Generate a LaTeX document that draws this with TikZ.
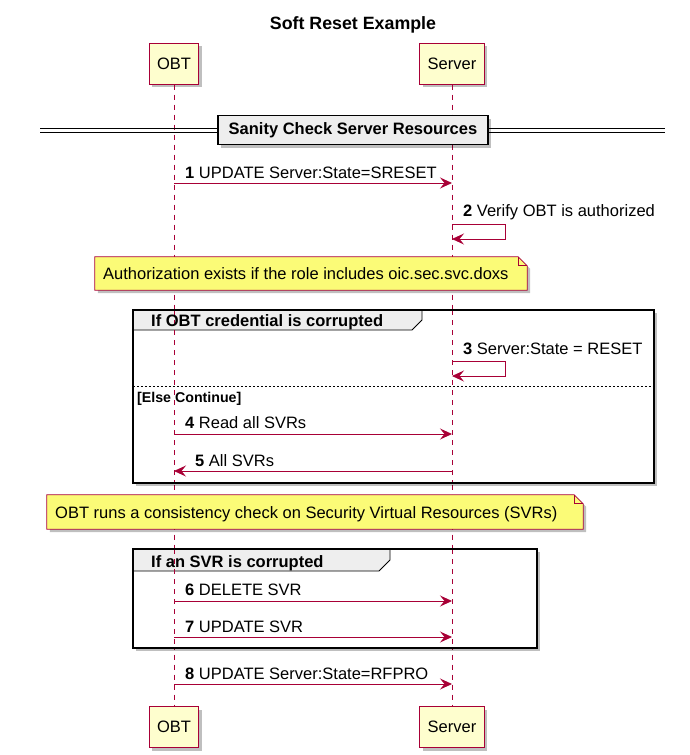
\documentclass[tikz,border=0pt]{standalone}
\usepackage{fontspec}
\setmainfont{Liberation Sans}
\usetikzlibrary{arrows.meta,shadows,calc}
\definecolor{pred}{HTML}{A80036}
\definecolor{pfill}{HTML}{FEFECE}
\definecolor{nfill}{HTML}{FBFB77}
\definecolor{gfill}{HTML}{EEEEEE}
\tikzset{
  x=1pt, y=-1pt,
  shad/.style={drop shadow={shadow xshift=3pt, shadow yshift=-3pt, fill=black, opacity=0.25}},
  part/.style={draw=pred, line width=1pt, fill=pfill, minimum height=41pt, inner xsep=8pt, font=\fontsize{16.5}{19}\selectfont, shad},
  life/.style={draw=pred, dashed, dash pattern=on 5pt off 5pt, line width=0.8pt},
  msg/.style={draw=pred, line width=0.9pt, -{Stealth[length=12pt,width=11pt,inset=4.5pt]}},
  lbl/.style={font=\fontsize{16.5}{19}\selectfont, anchor=base west, inner sep=0pt},
  hdr/.style={font=\bfseries\fontsize{16.5}{19}\selectfont, anchor=base west, inner sep=0pt},
  frame/.style={draw=black, line width=1.8pt},
}
\newcommand{\nm}[1]{\textbf{#1}}
\begin{document}
\begin{tikzpicture}
\useasboundingbox (0,0) rectangle (689,755);
% title
\node[font=\bfseries\fontsize{17.8}{20}\selectfont] (title) at (353,25) {Soft Reset Example};
% participants
\node[part] (obtT) at (174,63.5) {OBT};
\node[part] (srvT) at (452,63.5) {Server};
\node[part] (obtB) at (174,727) {OBT};
\node[part] (srvB) at (452,727) {Server};
% lifelines
\draw[life] (obtT.south) -- (obtB.north);
\draw[life] (srvT.south) -- (srvB.north);
% divider
\draw[line width=0.8pt] (40,128) -- (665,128);
\draw[line width=0.8pt] (40,132) -- (665,132);
\node[draw, line width=1.6pt, fill=gfill, minimum width=270pt, minimum height=29pt, font=\bfseries\fontsize{16.5}{19}\selectfont, shad] (div) at (353,130) {Sanity Check Server Resources};
% message 1
\draw[msg] (obtT.south |- 0,183) -- (srvT.south |- 0,183);
\node[lbl] (l1) at (185,178) {\nm{1} UPDATE Server:State=SRESET};
% message 2 (self)
\coordinate (s2) at (srvT.south |- 0,224);
\draw[msg] (s2) -- ++(53,0) -- ++(0,15) -- ($(s2)+(0,15)$);
\node[lbl] (l2) at (463,216) {\nm{2} Verify OBT is authorized};
% note 1
\node[inner sep=0pt, minimum width=432pt, minimum height=33pt] (n1) at (311,273.5) {};
\fill[black, opacity=0.25] ($(n1.south west)+(3,3)$) -- ($(n1.north west)+(3,3)$) -- ($(n1.north east)+(3-9,3)$) -- ($(n1.north east)+(3,3+9)$) -- ($(n1.south east)+(3,3)$) -- cycle;
\draw[pred, fill=nfill, line width=0.8pt] (n1.south west) -- (n1.north west) -- ($(n1.north east)+(-9,0)$) -- ($(n1.north east)+(0,9)$) -- (n1.south east) -- cycle;
\draw[pred, line width=0.8pt] ($(n1.north east)+(-9,0)$) -- ($(n1.north east)+(-9,9)$) -- ($(n1.north east)+(0,9)$);
\node[lbl] (t1) at (103,279) {Authorization exists if the role includes oic.sec.svc.doxs};
% alt frame 1
\node[inner sep=0pt, minimum width=521pt, minimum height=173pt] (f1) at (393.5,396.5) {};
\fill[black, opacity=0.25] ($(f1.north west)+(3,3)$) rectangle ($(f1.south east)+(3,3)$);
\fill[white] (f1.north west) rectangle (f1.south east);
\fill[gfill] (f1.north west) -- (422,310) -- (422,320) -- (412,330) -- (133,330) -- cycle;
\draw[line width=0.9pt] (422,310) -- (422,320) -- (412,330) -- (133,330);
\draw[life] (obtT.south |- 0,310) -- (obtT.south |- 0,483);
\draw[life] (srvT.south |- 0,310) -- (srvT.south |- 0,483);
\draw[frame] (f1.north west) rectangle (f1.south east);
\node[hdr] (h1) at (151,326) {If OBT credential is corrupted};
% message 3
\coordinate (s3) at (srvT.south |- 0,361);
\draw[msg] (s3) -- ++(53,0) -- ++(0,15) -- ($(s3)+(0,15)$);
\node[lbl] (l3) at (463,354) {\nm{3} Server:State = RESET};
% else
\draw[line width=0.8pt, dash pattern=on 2pt off 2pt] (f1.west |- 0,386) -- (f1.east |- 0,386);
\node[hdr, font=\bfseries\fontsize{14.2}{16}\selectfont] (e1) at (137,402) {[Else Continue]};
% message 4
\draw[msg] (obtT.south |- 0,434) -- (srvT.south |- 0,434);
\node[lbl] (l4) at (185,428) {\nm{4} Read all SVRs};
% message 5
\draw[msg] (srvT.south |- 0,471) -- (obtT.south |- 0,471);
\node[lbl] (l5) at (195,466) {\nm{5} All SVRs};
% note 2
\node[inner sep=0pt, minimum width=536pt, minimum height=34pt] (n2) at (315,512) {};
\fill[black, opacity=0.25] ($(n2.south west)+(3,3)$) -- ($(n2.north west)+(3,3)$) -- ($(n2.north east)+(3-9,3)$) -- ($(n2.north east)+(3,3+9)$) -- ($(n2.south east)+(3,3)$) -- cycle;
\draw[pred, fill=nfill, line width=0.8pt] (n2.south west) -- (n2.north west) -- ($(n2.north east)+(-9,0)$) -- ($(n2.north east)+(0,9)$) -- (n2.south east) -- cycle;
\draw[pred, line width=0.8pt] ($(n2.north east)+(-9,0)$) -- ($(n2.north east)+(-9,9)$) -- ($(n2.north east)+(0,9)$);
\node[lbl] (t2) at (55,518) {OBT runs a consistency check on Security Virtual Resources (SVRs)};
% alt frame 2
\node[inner sep=0pt, minimum width=404pt, minimum height=99pt] (f2) at (335,598.5) {};
\fill[black, opacity=0.25] ($(f2.north west)+(3,3)$) rectangle ($(f2.south east)+(3,3)$);
\fill[white] (f2.north west) rectangle (f2.south east);
\fill[gfill] (f2.north west) -- (390,549) -- (390,560) -- (379,571) -- (133,571) -- cycle;
\draw[line width=0.9pt] (390,549) -- (390,560) -- (379,571) -- (133,571);
\draw[life] (obtT.south |- 0,549) -- (obtT.south |- 0,648);
\draw[life] (srvT.south |- 0,549) -- (srvT.south |- 0,648);
\draw[frame] (f2.north west) rectangle (f2.south east);
\node[hdr] (h2) at (151,567) {If an SVR is corrupted};
% message 6,7
\draw[msg] (obtT.south |- 0,601) -- (srvT.south |- 0,601);
\node[lbl] (l6) at (185,595) {\nm{6} DELETE SVR};
\draw[msg] (obtT.south |- 0,637) -- (srvT.south |- 0,637);
\node[lbl] (l7) at (185,632) {\nm{7} UPDATE SVR};
% message 8
\draw[msg] (obtT.south |- 0,684) -- (srvT.south |- 0,684);
\node[lbl] (l8) at (185,679) {\nm{8} UPDATE Server:State=RFPRO};
\end{tikzpicture}
\end{document}
